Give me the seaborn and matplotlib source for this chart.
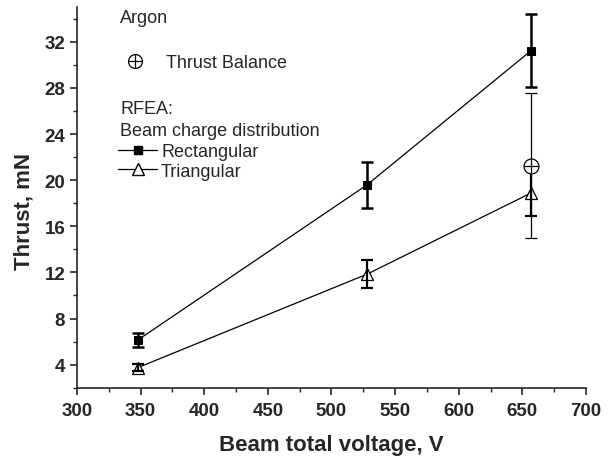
import numpy as np
import pandas as pd
import matplotlib
matplotlib.use("Agg")
import matplotlib.pyplot as plt
from matplotlib.lines import Line2D
from matplotlib.legend_handler import HandlerTuple
from matplotlib.ticker import MultipleLocator
import seaborn as sns

# data
voltage = [348, 528, 657]
rect_thrust = [6.15, 19.6, 31.25]
rect_err = [0.6, 2.0, 3.15]
tri_thrust = [3.75, 11.85, 18.9]
tri_err = [0.3, 1.2, 2.0]
balance_voltage = [657]
balance_thrust = [21.25]
balance_err = [6.3]

x_ticks = [300, 350, 400, 450, 500, 550, 600, 650, 700]
y_ticks = [4, 8, 12, 16, 20, 24, 28, 32]

df = pd.DataFrame({
    "voltage": voltage * 2,
    "thrust": rect_thrust + tri_thrust,
    "series": ["Rectangular"] * 3 + ["Triangular"] * 3,
})

sns.set_style("ticks")
plt.rcParams["font.family"] = ["Liberation Sans", "DejaVu Sans"]

fig = plt.figure(figsize=(6.11, 4.6), dpi=100)
ax = fig.add_axes([0.126, 0.155, 0.833, 0.827])

# lines + markers
sns.lineplot(data=df[df.series == "Rectangular"], x="voltage", y="thrust", ax=ax,
             color="black", lw=0.9, marker="s", markersize=6, markerfacecolor="black",
             markeredgecolor="black", legend=False)
sns.lineplot(data=df[df.series == "Triangular"], x="voltage", y="thrust", ax=ax,
             color="black", lw=0.9, marker="^", markersize=9, markerfacecolor="white",
             markeredgecolor="black", markeredgewidth=0.9, legend=False)

# error bars
ax.errorbar(voltage, rect_thrust, yerr=rect_err, fmt="none", ecolor="black",
            elinewidth=1.8, capsize=4, capthick=1.8, zorder=3)
ax.errorbar(voltage, tri_thrust, yerr=tri_err, fmt="none", ecolor="black",
            elinewidth=1.6, capsize=4, capthick=1.6, zorder=3)
ax.errorbar(balance_voltage, balance_thrust, yerr=balance_err, fmt="none", ecolor="black",
            elinewidth=0.9, capsize=4, capthick=0.9, zorder=3)

# thrust balance point (circle with cross)
ax.scatter(balance_voltage, balance_thrust, s=115, facecolor="white", edgecolor="black",
           linewidth=0.9, zorder=5)
ax.scatter(balance_voltage, balance_thrust, s=115, marker="+", color="black",
           linewidth=0.9, zorder=6)

ax.set_xlim(300, 700)
ax.set_ylim(2, 35)
ax.set_xticks(x_ticks)
ax.set_yticks(y_ticks)
ax.xaxis.set_minor_locator(MultipleLocator(25))
ax.yaxis.set_minor_locator(MultipleLocator(2))
ax.tick_params(axis="both", which="major", length=5, width=1.2, labelsize=13.5, direction="out")
ax.tick_params(axis="x", which="major", pad=5)
ax.tick_params(axis="both", which="minor", length=3, width=1.0, direction="out")
for lab in ax.get_xticklabels() + ax.get_yticklabels():
    lab.set_fontweight("bold")
sns.despine(ax=ax)
for s in ["left", "bottom"]:
    ax.spines[s].set_linewidth(1.2)

ax.set_xlabel("Beam total voltage, V", fontsize=16, fontweight="bold", labelpad=11)
ax.set_ylabel("Thrust, mN", fontsize=16, fontweight="bold")
ax.yaxis.set_label_coords(-0.083, 0.465)

# legend text block
ax.text(0.085, 0.995, "Argon", transform=ax.transAxes, fontsize=13, va="top")
circ = (Line2D([], [], marker="o", ls="none", markersize=10, markerfacecolor="white",
               markeredgecolor="black", markeredgewidth=0.9),
        Line2D([], [], marker="+", ls="none", markersize=10, color="black", markeredgewidth=0.9))
leg1 = ax.legend([circ], ["Thrust Balance"], loc="upper left", bbox_to_anchor=(0.085, 0.876),
                 frameon=False, fontsize=13, handler_map={tuple: HandlerTuple(ndivide=1, pad=0)},
                 handlelength=1.6, handletextpad=0.92, borderaxespad=0, borderpad=0)
ax.add_artist(leg1)
ax.text(0.085, 0.755, "RFEA:", transform=ax.transAxes, fontsize=13, va="top")
ax.text(0.085, 0.699, "Beam charge distribution", transform=ax.transAxes, fontsize=13, va="top")
h_rect = Line2D([], [], color="black", lw=0.9, marker="s", markersize=6)
h_tri = Line2D([], [], color="black", lw=0.9, marker="^", markersize=8, markerfacecolor="white")
ax.legend([h_rect, h_tri], ["Rectangular", "Triangular"], loc="upper left",
          bbox_to_anchor=(0.08, 0.643), frameon=False, fontsize=13, handlelength=2.2,
          handletextpad=0.2, labelspacing=0.15, borderaxespad=0, borderpad=0)

fig.savefig("out.png", dpi=100)
